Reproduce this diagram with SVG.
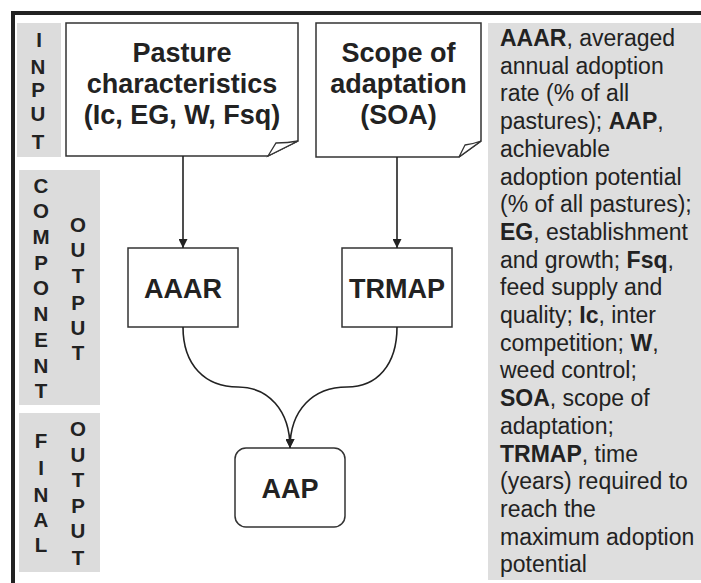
<svg xmlns="http://www.w3.org/2000/svg" width="701" height="583" viewBox="0 0 701 583">
<defs>
<style>
.band{fill:#dcdcdc}
.lt{font-family:"Liberation Sans",Arial,sans-serif;font-weight:bold;font-size:20.5px;fill:#222;text-anchor:middle}
.nt{font-family:"Liberation Sans",Arial,sans-serif;font-weight:bold;font-size:27px;fill:#222;text-anchor:middle}
.box{fill:#fff;stroke:#333;stroke-width:1.5}
.lg{font-family:"Liberation Sans",Arial,sans-serif;font-size:23px;fill:#222}
.lg tspan.b{font-weight:bold}
.con{fill:none;stroke:#222;stroke-width:1.6}
</style>
<marker id="ah" viewBox="0 0 10 10" refX="10" refY="5" markerWidth="9" markerHeight="9" markerUnits="userSpaceOnUse" orient="auto">
<path d="M0,0 L10,5 L0,10 Z" fill="#222"/>
</marker>
</defs>
<rect width="701" height="583" fill="#fff"/>
<path d="M13,583 V13 H701" fill="none" stroke="#222" stroke-width="4"/>

<g id="band-input">
<rect class="band" x="17" y="23" width="44" height="134"/>
<text class="lt" x="39" y="47">I</text>
<text class="lt" x="38" y="74">N</text>
<text class="lt" x="38" y="97">P</text>
<text class="lt" x="38" y="121">U</text>
<text class="lt" x="38" y="149">T</text>
</g>
<g id="band-component">
<rect class="band" x="19" y="170" width="81" height="235"/>
<text class="lt" x="41" y="193">C</text>
<text class="lt" x="41" y="218">O</text>
<text class="lt" x="41" y="244">M</text>
<text class="lt" x="41" y="270">P</text>
<text class="lt" x="41" y="295">O</text>
<text class="lt" x="41" y="321">N</text>
<text class="lt" x="41" y="347">E</text>
<text class="lt" x="41" y="373">N</text>
<text class="lt" x="41" y="398">T</text>
<text class="lt" x="78" y="232">O</text>
<text class="lt" x="78" y="257">U</text>
<text class="lt" x="78" y="283">T</text>
<text class="lt" x="78" y="310">P</text>
<text class="lt" x="78" y="335">U</text>
<text class="lt" x="78" y="360">T</text>
</g>
<g id="band-final">
<rect class="band" x="19" y="413" width="81" height="159"/>
<text class="lt" x="41" y="448">F</text>
<text class="lt" x="41" y="475">I</text>
<text class="lt" x="41" y="502">N</text>
<text class="lt" x="41" y="527">A</text>
<text class="lt" x="41" y="552">L</text>
<text class="lt" x="78" y="436">O</text>
<text class="lt" x="78" y="462">U</text>
<text class="lt" x="78" y="487">T</text>
<text class="lt" x="78" y="513">P</text>
<text class="lt" x="78" y="538">U</text>
<text class="lt" x="78" y="565">T</text>
</g>

<g id="node-pasture">
<path class="box" d="M66,23 H298 V141 L268,156 H66 Z"/>
<path d="M268,156 L276,143 Q288,143 298,141 Q284,148 268,156 Z" fill="#fff" stroke="#333" stroke-width="1.3"/>
<text class="nt" x="182" y="62">Pasture</text>
<text class="nt" x="182" y="93">characteristics</text>
<text class="nt" x="182" y="124">(Ic, EG, W, Fsq)</text>
</g>
<g id="node-soa">
<path class="box" d="M316,23 H481 V141 L459,157 H316 Z"/>
<path d="M459,157 L465,145 Q473,144 481,141 Q470,149 459,157 Z" fill="#fff" stroke="#333" stroke-width="1.3"/>
<text class="nt" x="398.5" y="62">Scope of</text>
<text class="nt" x="398.5" y="93">adaptation</text>
<text class="nt" x="398.5" y="124">(SOA)</text>
</g>
<g id="node-aaar">
<rect class="box" x="128" y="248" width="110" height="79"/>
<text class="nt" x="183" y="298">AAAR</text>
</g>
<g id="node-trmap">
<rect class="box" x="342" y="248" width="110" height="79"/>
<text class="nt" x="397" y="298">TRMAP</text>
</g>
<g id="node-aap">
<rect class="box" x="235" y="448" width="110" height="79" rx="11" ry="11"/>
<text class="nt" x="290" y="498">AAP</text>
</g>

<g id="connectors">
<path class="con" d="M183,156 V248" marker-end="url(#ah)"/>
<path class="con" d="M397,157 V248" marker-end="url(#ah)"/>
<path class="con" d="M183,327 C183,365 205,387 238,387 C268,387 290,410 290,448" marker-end="url(#ah)"/>
<path class="con" d="M397,327 C397,365 377,387 347,387 C313,387 290,410 290,448" marker-end="url(#ah)"/>
</g>

<g id="legend">
<rect x="488" y="23" width="213" height="557" fill="#dedede"/>
<text class="lg" x="500" y="46"><tspan class="b">AAAR</tspan>, averaged</text>
<text class="lg" x="500" y="73.7">annual adoption</text>
<text class="lg" x="500" y="101.4">rate (% of all</text>
<text class="lg" x="500" y="129.1">pastures); <tspan class="b">AAP</tspan>,</text>
<text class="lg" x="500" y="156.8">achievable</text>
<text class="lg" x="500" y="184.5">adoption potential</text>
<text class="lg" x="500" y="212.2">(% of all pastures);</text>
<text class="lg" x="500" y="239.9"><tspan class="b">EG</tspan>, establishment</text>
<text class="lg" x="500" y="267.6">and growth; <tspan class="b">Fsq</tspan>,</text>
<text class="lg" x="500" y="295.3">feed supply and</text>
<text class="lg" x="500" y="323">quality; <tspan class="b">Ic</tspan>, inter</text>
<text class="lg" x="500" y="350.7">competition; <tspan class="b">W</tspan>,</text>
<text class="lg" x="500" y="378.4">weed control;</text>
<text class="lg" x="500" y="406.1"><tspan class="b">SOA</tspan>, scope of</text>
<text class="lg" x="500" y="433.8">adaptation;</text>
<text class="lg" x="500" y="461.5"><tspan class="b">TRMAP</tspan>, time</text>
<text class="lg" x="500" y="489.2">(years) required to</text>
<text class="lg" x="500" y="516.9">reach the</text>
<text class="lg" x="500" y="544.6">maximum adoption</text>
<text class="lg" x="500" y="572.3">potential</text>
</g>
</svg>
